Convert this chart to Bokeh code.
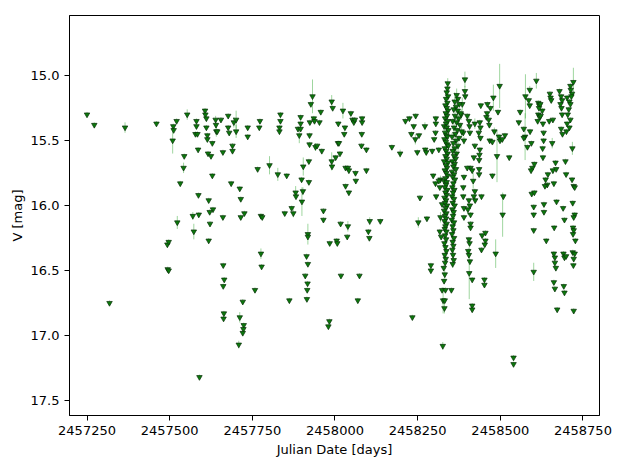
from bokeh.plotting import figure
from bokeh.models import ColumnDataSource, Range1d, FixedTicker, BasicTickFormatter, NumeralTickFormatter
from bokeh.embed import file_html
from bokeh.resources import INLINE

# (Julian Date, V magnitude, error)
season_2015 = [
    (2457250, 15.30, 0.02), (2457272, 15.38, 0.02), (2457318, 16.75, 0.02), (2457365, 15.40, 0.04),
]
season_2016 = [
    (2457460, 15.37, 0.02),
    (2457493, 16.30, 0.02), (2457497, 16.28, 0.02), (2457494, 16.49, 0.02), (2457497, 16.50, 0.02),
    (2457509, 15.50, 0.10), (2457511, 15.39, 0.02), (2457512, 15.42, 0.02), (2457521, 15.35, 0.02),
    (2457544, 15.62, 0.02), (2457542, 15.71, 0.04), (2457532, 15.83, 0.02), (2457523, 16.13, 0.05),
    (2457553, 15.30, 0.04), (2457573, 16.20, 0.06), (2457570, 16.08, 0.03), (2457588, 16.07, 0.02),
    (2457587, 15.92, 0.02), (2457581, 15.35, 0.02), (2457581, 15.39, 0.02), (2457578, 15.45, 0.02),
    (2457584, 15.45, 0.02), (2457586, 15.57, 0.02), (2457590, 17.32, 0.02),
    (2457607, 15.27, 0.02), (2457608, 15.30, 0.02), (2457611, 15.33, 0.02), (2457611, 15.40, 0.02),
    (2457614, 15.46, 0.02), (2457614, 15.49, 0.02), (2457616, 15.60, 0.02), (2457625, 15.62, 0.02),
    (2457629, 15.52, 0.02), (2457618, 15.96, 0.02), (2457631, 16.03, 0.02), (2457621, 16.05, 0.02),
    (2457622, 16.14, 0.02), (2457618, 16.27, 0.02), (2457629, 15.77, 0.02), (2457639, 15.34, 0.03),
    (2457640, 15.38, 0.02), (2457641, 15.43, 0.04), (2457644, 15.43, 0.02), (2457655, 15.34, 0.02),
    (2457661, 15.59, 0.02), (2457661, 16.09, 0.02), (2457662, 16.46, 0.02), (2457665, 16.57, 0.02),
    (2457662, 16.62, 0.02), (2457664, 16.83, 0.02), (2457663, 16.87, 0.02),
    (2457677, 15.31, 0.02), (2457677, 15.40, 0.02), (2457680, 15.44, 0.02), (2457690, 15.54, 0.02),
    (2457690, 15.58, 0.02), (2457686, 15.83, 0.02), (2457694, 15.36, 0.04), (2457701, 15.34, 0.07),
    (2457701, 15.43, 0.05), (2457712, 15.87, 0.02), (2457715, 15.95, 0.02), (2457715, 16.09, 0.02),
    (2457726, 16.06, 0.02), (2457712, 16.86, 0.04), (2457724, 16.92, 0.02), (2457723, 16.95, 0.02),
    (2457721, 16.98, 0.02), (2457709, 17.07, 0.03), (2457721, 16.74, 0.02), (2457736, 15.40, 0.02),
    (2457736, 15.47, 0.02), (2457758, 16.65, 0.02), (2457766, 15.72, 0.02), (2457773, 15.35, 0.02),
    (2457771, 15.40, 0.02), (2457776, 16.08, 0.02), (2457780, 16.09, 0.02), (2457776, 16.37, 0.04),
    (2457778, 16.47, 0.02),
]
season_2017 = [
    (2457802, 15.69, 0.07), (2457827, 15.76, 0.05), (2457835, 15.30, 0.02), (2457835, 15.35, 0.02),
    (2457832, 15.40, 0.02), (2457832, 15.43, 0.02), (2457854, 15.77, 0.02), (2457848, 16.06, 0.02),
    (2457862, 16.73, 0.02), (2457869, 16.02, 0.02), (2457874, 16.06, 0.03), (2457881, 15.90, 0.05),
    (2457882, 15.93, 0.02), (2457888, 15.41, 0.02), (2457896, 15.41, 0.02), (2457892, 15.46, 0.06),
    (2457896, 15.32, 0.02), (2457896, 15.37, 0.02), (2457899, 15.80, 0.02), (2457904, 15.70, 0.07),
    (2457903, 15.89, 0.03), (2457900, 15.97, 0.11), (2457914, 16.39, 0.02), (2457918, 16.45, 0.02),
    (2457910, 16.54, 0.02), (2457917, 16.60, 0.02), (2457916, 16.65, 0.02), (2457915, 16.72, 0.02),
    (2457924, 15.36, 0.02), (2457936, 15.33, 0.02), (2457938, 15.35, 0.02), (2457953, 15.36, 0.02),
    (2457927, 15.22, 0.02), (2457932, 15.16, 0.13), (2457957, 15.28, 0.02), (2457923, 15.46, 0.02),
    (2457923, 15.53, 0.02), (2457941, 15.55, 0.03), (2457946, 15.54, 0.02), (2457960, 15.58, 0.02),
    (2457921, 15.66, 0.02), (2457921, 15.82, 0.02), (2457965, 16.04, 0.02), (2457965, 16.11, 0.02),
    (2457918, 16.22, 0.08), (2457918, 16.24, 0.02), (2457990, 15.20, 0.05), (2457993, 15.25, 0.02),
    (2458010, 15.37, 0.02), (2458024, 15.27, 0.06), (2458030, 15.40, 0.02), (2458028, 15.45, 0.02),
    (2458009, 15.52, 0.02), (2458012, 15.52, 0.02), (2458015, 15.60, 0.02), (2458002, 15.63, 0.02),
    (2457990, 15.66, 0.07), (2457991, 15.70, 0.02), (2458048, 15.29, 0.02), (2458053, 15.34, 0.02),
    (2458057, 15.36, 0.02), (2458060, 15.34, 0.02), (2458032, 15.71, 0.02), (2458039, 15.71, 0.02),
    (2458042, 15.73, 0.02), (2458062, 15.75, 0.02), (2458063, 15.81, 0.02), (2458032, 15.85, 0.02),
    (2458042, 15.90, 0.02), (2458082, 15.33, 0.02), (2458082, 15.36, 0.02), (2458081, 15.45, 0.02),
    (2458080, 15.54, 0.02), (2458095, 15.57, 0.02), (2458095, 15.73, 0.02), (2458017, 16.14, 0.02),
    (2458039, 16.16, 0.04), (2458037, 16.24, 0.02), (2457984, 16.29, 0.02), (2458005, 16.27, 0.02),
    (2458007, 16.29, 0.02), (2458105, 16.12, 0.03), (2458137, 16.12, 0.02), (2458101, 16.20, 0.02),
    (2458104, 16.25, 0.02), (2457983, 16.89, 0.02), (2457980, 16.93, 0.02), (2458018, 16.54, 0.02),
    (2458074, 16.54, 0.02), (2458069, 16.73, 0.02),
]
season_2018 = [
    (2458172, 15.55, 0.02), (2458197, 15.60, 0.03), (2458213, 15.35, 0.02), (2458225, 15.33, 0.02),
    (2458244, 15.31, 0.02), (2458238, 15.39, 0.02), (2458231, 15.45, 0.02), (2458243, 15.49, 0.04),
    (2458254, 15.46, 0.02), (2458272, 15.39, 0.03), (2458249, 15.59, 0.02), (2458273, 15.57, 0.02),
    (2458276, 15.59, 0.02), (2458294, 15.58, 0.02), (2458314, 15.57, 0.02), (2458257, 15.94, 0.02),
    (2458252, 16.13, 0.04), (2458278, 16.10, 0.02), (2458290, 16.46, 0.02), (2458290, 16.50, 0.02),
    (2458234, 16.86, 0.02), (2458326, 17.08, 0.03), (2458297, 15.77, 0.02), (2458304, 15.83, 0.02),
    (2458306, 15.93, 0.02), (2458305, 15.33, 0.02), (2458305, 15.37, 0.02), (2458304, 15.44, 0.02),
    (2458300, 15.49, 0.02), (2458319, 15.80, 0.03), (2458314, 15.81, 0.02), (2458317, 15.86, 0.02),
    (2458324, 15.99, 0.02), (2458319, 16.09, 0.04), (2458317, 16.20, 0.02), (2458321, 16.24, 0.02),
    (2458393, 15.03, 0.06), (2458393, 15.12, 0.04), (2458394, 15.16, 0.02),
    (2458423, 15.37, 0.04), (2458438, 15.36, 0.02), (2458440, 15.40, 0.02), (2458435, 15.44, 0.05),
    (2458440, 15.48, 0.02), (2458423, 15.54, 0.02), (2458438, 15.57, 0.02), (2458437, 15.61, 0.02),
    (2458436, 15.65, 0.02), (2458436, 15.72, 0.02), (2458436, 15.76, 0.02), (2458400, 15.31, 0.02),
    (2458405, 15.35, 0.05), (2458407, 15.39, 0.02), (2458408, 15.44, 0.02), (2458420, 15.63, 0.02),
    (2458410, 15.71, 0.02), (2458400, 15.71, 0.02), (2458415, 15.73, 0.02), (2458418, 15.81, 0.06),
    (2458423, 15.89, 0.02), (2458420, 15.93, 0.02), (2458424, 15.96, 0.02), (2458390, 15.78, 0.02),
    (2458388, 15.86, 0.02), (2458443, 15.93, 0.02), (2458390, 16.02, 0.02), (2458405, 15.96, 0.02),
    (2458408, 16.00, 0.02), (2458402, 16.03, 0.04), (2458410, 16.07, 0.02), (2458410, 16.14, 0.02),
    (2458410, 16.17, 0.02), (2458405, 16.26, 0.02), (2458407, 16.29, 0.02), (2458403, 16.35, 0.02),
    (2458405, 16.38, 0.02), (2458408, 16.43, 0.02), (2458445, 16.23, 0.02), (2458455, 16.21, 0.02),
    (2458455, 16.27, 0.02), (2458453, 16.30, 0.02), (2458443, 16.34, 0.02), (2458406, 16.52, 0.20),
    (2458415, 16.57, 0.02), (2458452, 16.57, 0.02), (2458452, 16.61, 0.02), (2458415, 16.77, 0.02),
    (2458415, 16.80, 0.02), (2458388, 15.93, 0.02), (2458390, 16.09, 0.02), (2458385, 15.22, 0.05),
    (2458382, 15.30, 0.04), (2458388, 15.44, 0.02), (2458390, 15.50, 0.03),
]
# dense first band of the 2018 campaign
band_a = [
    (2458341, 15.06, 0.04), (2458340, 15.10, 0.02), (2458338, 15.13, 0.05), (2458342, 15.16, 0.02),
    (2458336, 15.18, 0.03), (2458340, 15.21, 0.08), (2458334, 15.23, 0.02), (2458338, 15.25, 0.04),
    (2458342, 15.27, 0.02), (2458335, 15.29, 0.06), (2458339, 15.31, 0.02), (2458333, 15.33, 0.03),
    (2458341, 15.35, 0.10), (2458336, 15.37, 0.02), (2458330, 15.39, 0.04), (2458338, 15.40, 0.02),
    (2458343, 15.42, 0.07), (2458333, 15.44, 0.02), (2458337, 15.46, 0.05), (2458340, 15.47, 0.02),
    (2458331, 15.49, 0.03), (2458335, 15.51, 0.09), (2458339, 15.53, 0.02), (2458343, 15.54, 0.04),
    (2458332, 15.56, 0.02), (2458336, 15.58, 0.06), (2458341, 15.60, 0.02), (2458334, 15.62, 0.03),
    (2458338, 15.64, 0.11), (2458330, 15.66, 0.02), (2458342, 15.67, 0.04), (2458335, 15.69, 0.02),
    (2458339, 15.71, 0.05), (2458332, 15.73, 0.02), (2458337, 15.75, 0.08), (2458341, 15.77, 0.02),
    (2458334, 15.79, 0.03), (2458330, 15.81, 0.02), (2458338, 15.82, 0.06), (2458336, 15.84, 0.02),
    (2458332, 15.86, 0.04), (2458340, 15.88, 0.02), (2458334, 15.90, 0.10), (2458338, 15.92, 0.02),
    (2458331, 15.94, 0.03), (2458336, 15.96, 0.05), (2458333, 15.98, 0.02), (2458339, 16.00, 0.04),
    (2458335, 16.02, 0.02), (2458330, 16.04, 0.07), (2458337, 16.06, 0.02), (2458333, 16.08, 0.03),
    (2458336, 16.10, 0.02), (2458331, 16.12, 0.06), (2458338, 16.14, 0.02), (2458334, 16.16, 0.04),
    (2458332, 16.18, 0.02), (2458337, 16.20, 0.05), (2458333, 16.23, 0.02), (2458336, 16.26, 0.03),
    (2458331, 16.29, 0.02), (2458334, 16.32, 0.06), (2458337, 16.35, 0.02), (2458332, 16.38, 0.04),
    (2458335, 16.41, 0.02), (2458333, 16.44, 0.05), (2458329, 16.48, 0.02), (2458332, 16.53, 0.03),
    (2458330, 16.58, 0.02), (2458324, 16.65, 0.02), (2458334, 16.65, 0.02), (2458352, 16.65, 0.02),
    (2458327, 16.73, 0.10), (2458332, 16.73, 0.02), (2458331, 16.79, 0.04),
]
# dense second band of the 2018 campaign
band_b = [
    (2458368, 15.15, 0.05), (2458372, 15.18, 0.02), (2458362, 15.20, 0.07), (2458376, 15.22, 0.02),
    (2458366, 15.24, 0.04), (2458359, 15.26, 0.02), (2458371, 15.27, 0.09), (2458380, 15.29, 0.02),
    (2458363, 15.31, 0.03), (2458374, 15.33, 0.06), (2458356, 15.35, 0.02), (2458368, 15.36, 0.04),
    (2458378, 15.38, 0.02), (2458360, 15.40, 0.08), (2458370, 15.42, 0.02), (2458383, 15.43, 0.05),
    (2458364, 15.45, 0.02), (2458354, 15.47, 0.03), (2458375, 15.48, 0.02), (2458366, 15.50, 0.10),
    (2458358, 15.52, 0.02), (2458372, 15.54, 0.04), (2458362, 15.56, 0.02), (2458356, 15.58, 0.06),
    (2458368, 15.60, 0.02), (2458360, 15.62, 0.03), (2458365, 15.64, 0.07), (2458355, 15.66, 0.02),
    (2458362, 15.68, 0.04), (2458358, 15.70, 0.02), (2458366, 15.72, 0.05), (2458354, 15.74, 0.02),
    (2458360, 15.76, 0.08), (2458356, 15.78, 0.02), (2458363, 15.80, 0.03), (2458358, 15.83, 0.02),
    (2458355, 15.86, 0.06), (2458361, 15.88, 0.02), (2458357, 15.90, 0.04), (2458354, 15.93, 0.02),
    (2458360, 15.95, 0.05), (2458356, 15.98, 0.02), (2458362, 16.00, 0.09), (2458355, 16.03, 0.02),
    (2458359, 16.05, 0.03), (2458357, 16.08, 0.02), (2458353, 16.11, 0.06), (2458360, 16.13, 0.02),
    (2458356, 16.16, 0.04), (2458358, 16.19, 0.02), (2458354, 16.22, 0.05), (2458360, 16.25, 0.02),
    (2458356, 16.28, 0.03), (2458358, 16.31, 0.07), (2458355, 16.34, 0.02), (2458357, 16.38, 0.04),
    (2458359, 16.42, 0.02), (2458356, 16.45, 0.03),
]
season_2019 = [
    (2458498, 15.08, 0.17), (2458479, 15.17, 0.10), (2458461, 15.22, 0.02), (2458470, 15.25, 0.02),
    (2458441, 15.23, 0.02), (2458493, 15.28, 0.02), (2458460, 15.29, 0.02), (2458458, 15.32, 0.02),
    (2458465, 15.34, 0.02), (2458467, 15.38, 0.02), (2458482, 15.43, 0.03), (2458496, 15.47, 0.02),
    (2458499, 15.50, 0.02), (2458506, 15.49, 0.02), (2458514, 15.46, 0.02), (2458468, 15.50, 0.02),
    (2458476, 15.51, 0.02), (2458490, 15.62, 0.20), (2458527, 15.63, 0.02), (2458476, 15.77, 0.02),
    (2458509, 15.93, 0.02), (2458507, 16.07, 0.17), (2458486, 16.37, 0.11), (2458540, 17.17, 0.02),
    (2458540, 17.22, 0.02), (2458560, 15.28, 0.02), (2458556, 15.36, 0.02), (2458576, 15.16, 0.17),
    (2458589, 15.11, 0.03), (2458609, 15.04, 0.06), (2458586, 15.19, 0.02), (2458589, 15.23, 0.02),
    (2458571, 15.41, 0.02), (2458575, 15.47, 0.18), (2458571, 15.48, 0.02), (2458590, 15.43, 0.02),
    (2458594, 15.52, 0.02), (2458582, 15.55, 0.02), (2458597, 15.71, 0.02), (2458593, 15.73, 0.02),
    (2458603, 15.68, 0.02), (2458595, 15.91, 0.02), (2458603, 15.90, 0.02), (2458601, 16.01, 0.02),
    (2458601, 16.07, 0.02), (2458601, 16.19, 0.02), (2458601, 16.51, 0.07), (2458615, 15.21, 0.02),
    (2458618, 15.23, 0.02), (2458621, 15.22, 0.02), (2458615, 15.30, 0.02), (2458619, 15.32, 0.02),
    (2458613, 15.35, 0.02), (2458627, 15.27, 0.02), (2458622, 15.31, 0.02), (2458617, 15.25, 0.02),
    (2458629, 15.37, 0.02), (2458631, 15.44, 0.02), (2458631, 15.50, 0.02), (2458629, 15.63, 0.02),
    (2458628, 15.56, 0.02), (2458644, 15.76, 0.02), (2458637, 15.80, 0.02), (2458642, 15.84, 0.02),
    (2458635, 15.85, 0.02), (2458632, 15.99, 0.02), (2458632, 16.05, 0.02), (2458639, 16.27, 0.02),
    (2458648, 15.35, 0.02), (2458659, 15.34, 0.02), (2458657, 15.52, 0.04), (2458650, 15.14, 0.02),
    (2458652, 15.17, 0.02), (2458654, 15.19, 0.02), (2458659, 15.73, 0.02), (2458662, 15.83, 0.02),
    (2458667, 15.67, 0.02), (2458669, 15.72, 0.02), (2458662, 16.37, 0.02), (2458665, 16.40, 0.02),
    (2458665, 16.44, 0.02), (2458668, 16.48, 0.02), (2458662, 16.59, 0.02), (2458665, 16.64, 0.02),
    (2458670, 15.97, 0.02), (2458663, 16.17, 0.02), (2458672, 16.80, 0.02), (2458679, 15.12, 0.02),
    (2458684, 15.16, 0.02), (2458687, 15.19, 0.02), (2458682, 15.22, 0.02), (2458685, 15.25, 0.02),
    (2458687, 15.30, 0.02), (2458684, 15.41, 0.02), (2458688, 15.45, 0.02), (2458690, 16.02, 0.02),
    (2458694, 16.11, 0.02), (2458697, 15.66, 0.02), (2458699, 15.76, 0.02), (2458691, 16.37, 0.02),
    (2458694, 16.40, 0.02), (2458699, 16.39, 0.02), (2458692, 16.62, 0.02), (2458694, 16.67, 0.02),
    (2458702, 15.17, 0.02), (2458709, 15.20, 0.02), (2458712, 15.22, 0.02), (2458707, 15.26, 0.02),
    (2458704, 15.30, 0.02), (2458712, 15.34, 0.02), (2458702, 15.37, 0.02), (2458709, 15.40, 0.02),
    (2458700, 15.43, 0.02), (2458717, 15.14, 0.02), (2458712, 15.08, 0.02), (2458721, 15.05, 0.11),
    (2458713, 15.11, 0.02), (2458715, 15.16, 0.02), (2458718, 15.56, 0.05), (2458717, 15.80, 0.02),
    (2458722, 15.85, 0.02), (2458725, 15.86, 0.02), (2458719, 15.98, 0.02), (2458725, 16.07, 0.02),
    (2458722, 16.09, 0.02), (2458720, 16.17, 0.02), (2458722, 16.19, 0.02), (2458720, 16.22, 0.02),
    (2458727, 16.27, 0.02), (2458719, 16.36, 0.02), (2458725, 16.37, 0.02), (2458722, 16.41, 0.02),
    (2458721, 16.46, 0.02), (2458722, 16.81, 0.02),
]

x_ticks = [2457250, 2457500, 2457750, 2458000, 2458250, 2458500, 2458750]
y_ticks = [15.0, 15.5, 16.0, 16.5, 17.0, 17.5]

rows = season_2015 + season_2016 + season_2017 + season_2018 + band_a + band_b + season_2019
jd = [r[0] for r in rows]
mag = [r[1] for r in rows]
err = [r[2] for r in rows]
src = ColumnDataSource(dict(jd=jd, mag=mag,
                            lo=[m - e for m, e in zip(mag, err)],
                            hi=[m + e for m, e in zip(mag, err)]))

FONT = "DejaVu Sans"
p = figure(frame_width=530, frame_height=400,
           min_border_left=69, min_border_right=16, min_border_top=15, min_border_bottom=44,
           x_range=Range1d(2457197, 2458800), y_range=Range1d(17.615, 14.538),
           output_backend="svg", toolbar_location=None, tools="")
p.background_fill_color = "white"
p.border_fill_color = "white"
p.outline_line_color = "black"
p.outline_line_width = 1
p.grid.visible = False

p.segment(x0="jd", y0="lo", x1="jd", y1="hi", source=src, line_color="#2aa52a", line_alpha=0.45, line_width=1)
p.scatter(x="jd", y="mag", source=src, marker="inverted_triangle", size=5.5,
          fill_color="#0b7a0b", line_color="#0a2f0a", line_width=0.7)

for ax in (p.xaxis[0], p.yaxis[0]):
    ax.axis_line_color = "black"
    ax.major_tick_line_color = "black"
    ax.major_tick_out = 5
    ax.major_tick_in = 0
    ax.minor_tick_line_color = None
    ax.major_label_text_font = FONT
    ax.major_label_text_font_size = "13px"
    ax.major_label_text_color = "black"
    ax.axis_label_text_font = FONT
    ax.axis_label_text_font_size = "13px"
    ax.axis_label_text_font_style = "normal"
    ax.axis_label_text_color = "black"

p.xaxis.ticker = FixedTicker(ticks=x_ticks)
p.xaxis.formatter = BasicTickFormatter(use_scientific=False)
p.xaxis.axis_label = "Julian Date [days]"
p.xaxis.major_label_standoff = 5
p.xaxis.axis_label_standoff = 4

p.yaxis.ticker = FixedTicker(ticks=y_ticks)
p.yaxis.formatter = NumeralTickFormatter(format="0.0")
p.yaxis.axis_label = "V [mag]"
p.yaxis.major_label_standoff = 5
p.yaxis.axis_label_standoff = 3

open("out.html", "w").write(file_html(p, INLINE))
